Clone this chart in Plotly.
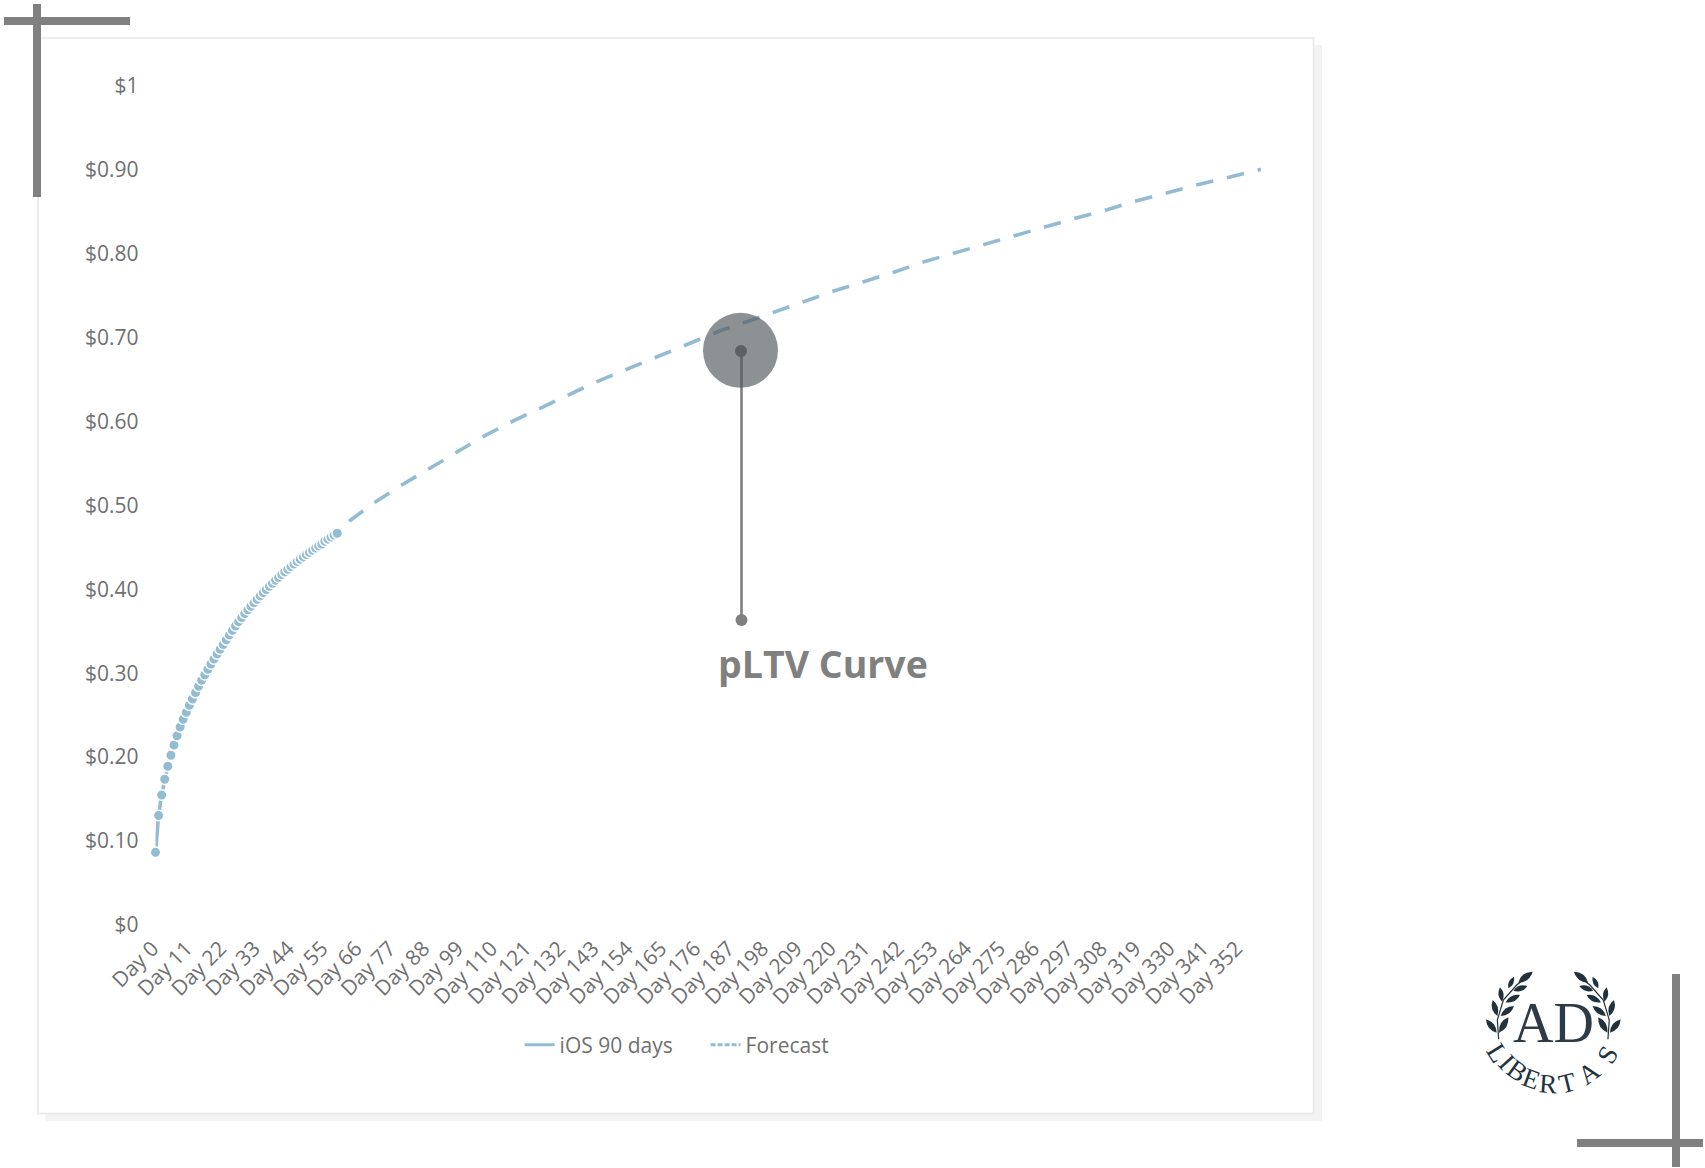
import plotly.graph_objects as go

W, H = 1705, 1168

ios_days = list(range(60))
ios_values = [0.0866, 0.1305, 0.1549, 0.1736, 0.1891, 0.2022, 0.2145, 0.2255, 0.2359, 0.2451,
              0.2534, 0.2618, 0.2693, 0.2768, 0.2844, 0.2916, 0.2982, 0.3047, 0.3110, 0.3169,
              0.3229, 0.3285, 0.3341, 0.3397, 0.3454, 0.3510, 0.3562, 0.3614, 0.3663, 0.3710,
              0.3755, 0.3798, 0.3840, 0.3881, 0.3921, 0.3960, 0.3998, 0.4035, 0.4071, 0.4107,
              0.4141, 0.4175, 0.4207, 0.4239, 0.4270, 0.4300, 0.4330, 0.4358, 0.4386, 0.4413,
              0.4439, 0.4465, 0.4491, 0.4516, 0.4540, 0.4572, 0.4597, 0.4622, 0.4646, 0.4667]

forecast_days = [55, 59, 63, 71, 80, 89, 97, 106, 115, 125, 134, 143, 153, 162, 172, 177, 184, 193,
                 203, 210, 220, 230, 240, 249, 259, 269, 279, 289, 299, 309, 318, 328, 338, 348, 359]
forecast_values = [0.4572, 0.4667, 0.4814, 0.5032, 0.5243, 0.5441, 0.5620, 0.5811, 0.5985, 0.6156,
                   0.6311, 0.6470, 0.6621, 0.6759, 0.6902, 0.6978, 0.7089, 0.7200, 0.7328, 0.7427,
                   0.7550, 0.7665, 0.7780, 0.7896, 0.8003, 0.8110, 0.8218, 0.8325, 0.8424, 0.8523,
                   0.8623, 0.8718, 0.8817, 0.8904, 0.9004]

x_tick_days = list(range(0, 353, 11))
x_tick_labels = [f"Day {d}" for d in x_tick_days]
y_tick_values = [0, 0.1, 0.2, 0.3, 0.4, 0.5, 0.6, 0.7, 0.8, 0.9, 1]
y_tick_labels = ["$0", "$0.10", "$0.20", "$0.30", "$0.40", "$0.50", "$0.60", "$0.70", "$0.80", "$0.90", "$1"]

LINE = "#93bcd2"
TEXT = "#707070"
GREY = "#808080"
INK = "#22323c"
FONT = "Open Sans"


def px(x):
    return x / W


def py(y):
    return 1 - y / H


def rect(x0, y0, x1, y1, fill, line=None, lw=0, layer="below"):
    return dict(type="rect", xref="paper", yref="paper", x0=px(x0), x1=px(x1), y0=py(y0), y1=py(y1),
                fillcolor=fill, line=dict(color=line or fill, width=lw), layer=layer)


def circle(cx, cy, r, fill, layer="above"):
    return dict(type="circle", xref="paper", yref="paper", x0=px(cx - r), x1=px(cx + r),
                y0=py(cy - r), y1=py(cy + r), fillcolor=fill, line=dict(width=0), layer=layer)


def path(points, close=True, fill=INK, lw=0, color=INK):
    d = ""
    for i, cmd in enumerate(points):
        d += f"{cmd[0]}" + " ".join(f"{px(a):.5f},{py(b):.5f}" for a, b in cmd[1:]) + " "
    if close:
        d += "Z"
    s = dict(type="path", xref="paper", yref="paper", path=d, layer="above",
             line=dict(width=lw, color=color))
    if close:
        s["fillcolor"] = fill
    return s


def leaf(bx, by, tx, ty, w=0.36):
    mx, my = (bx + tx) / 2, (by + ty) / 2
    nx, ny = -(ty - by) * w, (tx - bx) * w
    return path([("M", (bx, by)), ("Q", (mx + nx, my + ny), (tx, ty)), ("Q", (mx - nx, my - ny), (bx, by))])


fig = go.Figure()
fig.add_trace(go.Scatter(x=forecast_days, y=forecast_values, mode="lines", showlegend=False, cliponaxis=False,
                         line=dict(color=LINE, width=3.6, dash="17.6px,14px"), hoverinfo="skip"))
fig.add_trace(go.Scatter(x=ios_days, y=ios_values, mode="lines+markers", showlegend=False, cliponaxis=False,
                         line=dict(color=LINE, width=3.6),
                         marker=dict(color=LINE, size=10.5, line=dict(color="white", width=1.5))))
fig.add_trace(go.Scatter(x=[None], y=[None], mode="lines", name="iOS 90 days", line=dict(color=LINE, width=3)))
fig.add_trace(go.Scatter(x=[None], y=[None], mode="lines", name="Forecast",
                         line=dict(color=LINE, width=3, dash="5px,2px")))

shapes = [
    rect(45, 45, 1322, 1121, "#f3f3f3"),
    rect(38, 38, 1313.5, 1113.5, "#ffffff", "#e8e8e8", 1.5),
    rect(33, 4, 41, 197, GREY, layer="above"),
    rect(4, 17, 130, 25, GREY, layer="above"),
    rect(1672, 974, 1680, 1167, GREY, layer="above"),
    rect(1577, 1139, 1703, 1147, GREY, layer="above"),
    dict(type="line", xref="paper", yref="paper", x0=px(741.5), x1=px(741.5), y0=py(350), y1=py(620),
         line=dict(color=GREY, width=2.6), layer="above"),
    circle(741.5, 620, 6, GREY),
    circle(740.5, 350.3, 37.5, "rgba(80,88,92,0.66)"),
    circle(741, 351, 6, "#5c6164"),
]

# logo: laurels
leaves = [((470, 458), (438, 418)), ((477, 458), (505, 412)), ((472, 408), (458, 360)),
          ((482, 408), (522, 378)), ((486, 365), (480, 322)), ((497, 367), (540, 345)),
          ((505, 325), (522, 290)), ((520, 332), (562, 318)), ((535, 308), (578, 275))]
stem = [(476, 478), (472, 420), (490, 360), (530, 315), (575, 280)]
MID = 1553.3


def cv(p, mirror):
    x, y = 1340 + p[0] / 3, 880 + p[1] / 3
    return (2 * MID - x if mirror else x, y)


for mirror in (False, True):
    for b, t in leaves:
        shapes.append(leaf(*cv(b, mirror), *cv(t, mirror)))
    st = [cv(p, mirror) for p in stem]
    shapes.append(path([("M", st[0])] + [("L", p) for p in st[1:]], close=False, lw=1.2))

annotations = [
    dict(text="<b>pLTV Curve</b>", x=px(716), y=py(663), xref="paper", yref="paper", xanchor="left",
         yanchor="middle", showarrow=False, font=dict(family=FONT, size=37.5, color=GREY)),
    dict(text="AD", x=px(1553.3), y=py(1023), xref="paper", yref="paper", xanchor="center", yanchor="middle",
         showarrow=False, font=dict(family="Liberation Serif", size=56, color="#2c3b45")),
]
letters = [("L", 82, 280, 58), ("I", 110, 307, 48), ("B", 142, 334, 36), ("E", 185, 358, 20),
           ("R", 234, 373, 4), ("T", 292, 368, -14), ("A", 356, 338, -36), ("S", 412, 284, -60)]
for ch, cx, cy, ang in letters:
    annotations.append(dict(text=ch, x=px(1470 + cx / 3), y=py(960 + cy / 3), xref="paper", yref="paper",
                            xanchor="center", yanchor="middle", textangle=ang, showarrow=False,
                            font=dict(family="Liberation Serif", size=27, color=INK)))

fig.update_layout(
    width=W, height=H, margin=dict(l=0, r=0, t=0, b=0, pad=0, autoexpand=False), autosize=False,
    paper_bgcolor="white", plot_bgcolor="rgba(0,0,0,0)",
    font=dict(family=FONT, size=21, color=TEXT),
    shapes=shapes, annotations=annotations,
    legend=dict(orientation="h", x=px(519.6), y=py(1045), xanchor="left", yanchor="middle",
                bgcolor="rgba(0,0,0,0)", font=dict(family=FONT, size=21, color=TEXT),
                itemwidth=30, entrywidth=141, entrywidthmode="pixels"),
    xaxis=dict(domain=[px(155.5), px(1261)], range=[0, 359], tickmode="array", tickvals=x_tick_days,
               ticktext=x_tick_labels, tickangle=-45, showgrid=False, zeroline=False, showline=False,
               ticks="", tickfont=dict(family=FONT, size=21, color=TEXT), anchor="y", ticklabelstandoff=6,
               ticklabelshift=-3, automargin=False),
    yaxis=dict(domain=[py(925), py(85.7)], range=[0, 1], tickmode="array", tickvals=y_tick_values,
               ticktext=y_tick_labels, showgrid=False, zeroline=False, showline=False, ticks="",
               tickfont=dict(family=FONT, size=21, color=TEXT), anchor="x", ticklabelstandoff=16,
               automargin=False),
)

fig.write_html("out.html", config=dict(displayModeBar=False),
               post_script="document.body.style.margin='0';")
